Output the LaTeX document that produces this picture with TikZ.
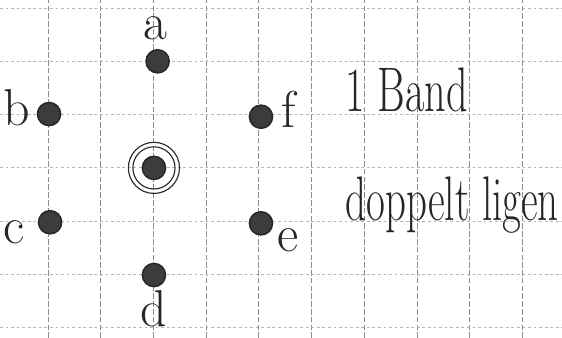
\documentclass[tikz,border=0pt]{standalone}
\usepackage{graphicx}
\usepackage{tikz}
\usetikzlibrary{positioning}
\definecolor{cPencil}{HTML}{262626}
\definecolor{cDot}{HTML}{3C3C3C}
\definecolor{cGridV}{HTML}{8C8C8C}
\definecolor{cGridH}{HTML}{B4B4B4}

\tikzset{
  vertex/.style={circle,fill=cDot,draw=cPencil,line width=0.8pt,
    minimum size=0.44cm,inner sep=0pt},
  ring/.style={circle,draw=cPencil,line width=0.6pt,inner sep=0pt},
  vlabel/.style={text=cPencil,inner sep=0pt,font=\fontsize{28}{30}\selectfont},
  note/.style={text=cPencil,inner sep=0pt,anchor=base west,
    font=\fontsize{34}{36}\selectfont},
}

\begin{document}
\begin{tikzpicture}[x=1cm, y=1.011cm]
    \useasboundingbox (-0.91,-3.19) rectangle (9.75,3.15);
    % --- squared paper ----------------------------------------------
    \foreach \x in {0,...,9}{
      \draw[cGridV,line width=0.5pt,dash pattern=on 3pt off 1.2pt] (\x,-3.19) -- (\x,3.15);
    }
    \foreach \y in {-3,...,3}{
      \draw[cGridH,line width=0.45pt,dash pattern=on 1.5pt off 1.5pt] (-0.91,\y) -- (9.75,\y);
    }

    % --- vertices -----------------------------------------------------
    \node[vertex] (a) at (2.08,2) {};
    \node[vertex] (b) at (0.02,1.01) {};
    \node[vertex] (c) at (0.04,-1.02) {};
    \node[vertex] (m) at (2.01,0) {};
    \node[vertex] (d) at (2.01,-2.01) {};
    \node[vertex] (f) at (4.04,0.96) {};
    \node[vertex] (e) at (4.04,-1.04) {};
    \node[ring,minimum size=0.8cm] (mi) at (m) {};
    \node[ring,minimum size=0.97cm] (mo) at (m) {};

    % --- vertex names -------------------------------------------------
    \node[vlabel] (la) at (2.04,2.62) {a};
    \node[vlabel] (lb) at (-0.6,1.12) {b};
    \node[vlabel] (lc) at (-0.64,-1.2) {c};
    \node[vlabel] (ld) at (2.0,-2.64) {d};
    \node[vlabel] (le) at (4.56,-1.36) {e};
    \node[vlabel] (lf) at (4.56,1.1) {f};

    % --- note ---------------------------------------------------------
    \node[note] (band) at (5.64,1.05) {\scalebox{0.67}[1]{1 Band}};
    \node[note] (lie) at (5.64,-0.98) {\scalebox{0.65}[1]{doppelt ligen}};
  \end{tikzpicture}
\end{document}
